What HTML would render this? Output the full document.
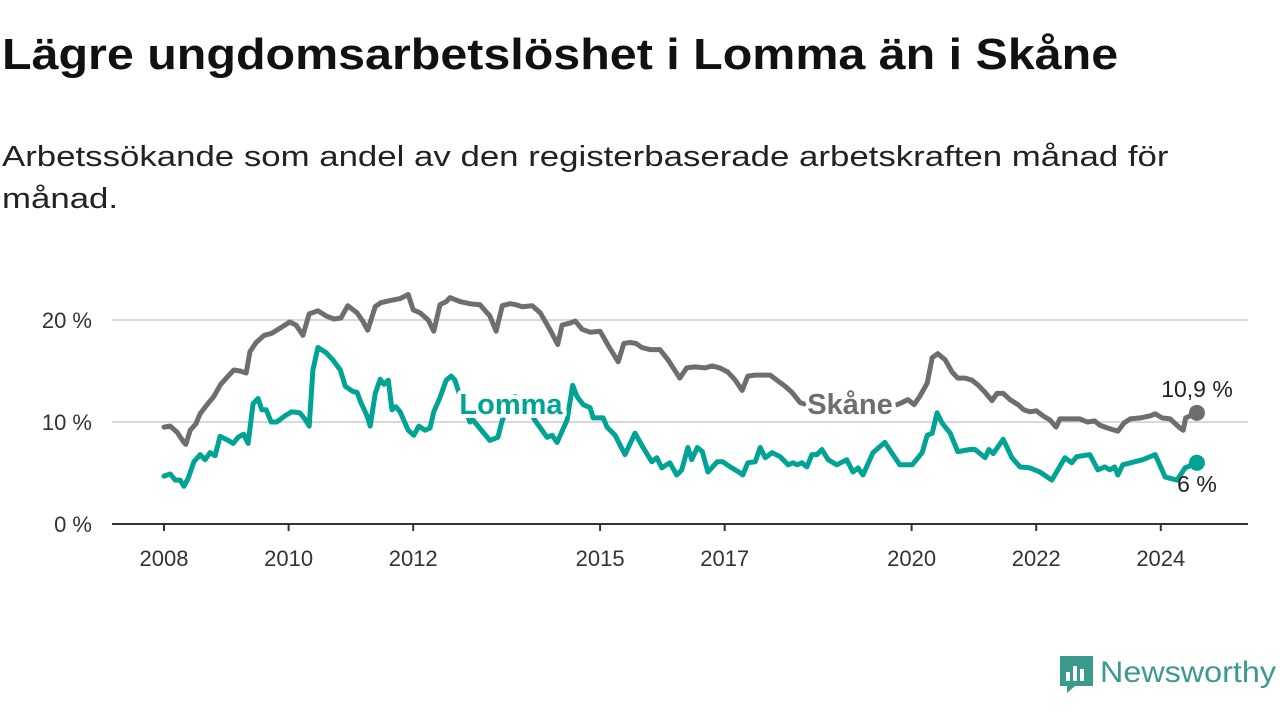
<!DOCTYPE html>
<html><head><meta charset="utf-8"><style>
body{margin:0;width:1280px;height:720px;background:#fff;overflow:hidden;font-family:"Liberation Sans",sans-serif;}
h1{position:absolute;left:2px;top:30px;margin:0;font-size:44px;font-weight:bold;color:#111;transform:scaleX(1.1);transform-origin:left top;white-space:nowrap}
.sub{position:absolute;left:2px;top:136px;margin:0;font-size:29px;color:#222;line-height:42px;width:1000px;transform:scaleX(1.2);transform-origin:left top}
svg{position:absolute;left:0;top:0}
</style></head><body>
<h1>Lägre ungdomsarbetslöshet i Lomma än i Skåne</h1>
<p class="sub">Arbetssökande som andel av den registerbaserade arbetskraften månad för månad.</p>
<svg id="chart" width="1280" height="720"></svg>
<script>
const skaneDates=[2008.00,2008.10,2008.21,2008.32,2008.35,2008.42,2008.51,2008.58,2008.69,2008.80,2008.91,2009.03,2009.12,2009.22,2009.32,2009.38,2009.48,2009.61,2009.73,2009.86,2010.02,2010.12,2010.23,2010.33,2010.47,2010.60,2010.73,2010.84,2010.95,2011.10,2011.19,2011.27,2011.39,2011.48,2011.63,2011.79,2011.92,2012.00,2012.11,2012.24,2012.33,2012.43,2012.53,2012.59,2012.75,2012.91,2013.07,2013.23,2013.33,2013.43,2013.55,2013.65,2013.75,2013.91,2014.04,2014.20,2014.32,2014.39,2014.52,2014.60,2014.71,2014.84,2015.00,2015.13,2015.29,2015.38,2015.48,2015.58,2015.67,2015.80,2015.96,2016.09,2016.28,2016.39,2016.52,2016.68,2016.80,2016.92,2017.05,2017.17,2017.28,2017.37,2017.49,2017.73,2017.86,2017.97,2018.08,2018.21,2018.53,2018.85,2019.17,2019.49,2019.81,2019.94,2020.04,2020.13,2020.25,2020.33,2020.42,2020.54,2020.65,2020.74,2020.86,2020.97,2021.07,2021.18,2021.29,2021.37,2021.47,2021.58,2021.71,2021.80,2021.90,2022.00,2022.11,2022.22,2022.32,2022.38,2022.54,2022.70,2022.82,2022.94,2023.02,2023.15,2023.31,2023.41,2023.51,2023.67,2023.83,2023.91,2024.02,2024.15,2024.31,2024.36,2024.40,2024.58];
const skaneValues=[9.5,9.6,9.0,8.0,7.8,9.2,9.8,10.8,11.7,12.5,13.7,14.5,15.1,15.0,14.8,16.9,17.8,18.5,18.7,19.2,19.8,19.5,18.5,20.6,20.9,20.4,20.1,20.2,21.4,20.7,19.9,19.0,21.3,21.7,21.9,22.1,22.5,21.0,20.7,20.0,18.9,21.5,21.8,22.2,21.8,21.6,21.5,20.4,18.9,21.4,21.6,21.5,21.3,21.4,20.7,19.0,17.6,19.5,19.7,19.9,19.1,18.8,18.9,17.5,15.9,17.7,17.8,17.7,17.3,17.1,17.1,16.1,14.3,15.3,15.4,15.3,15.5,15.3,14.9,14.1,13.1,14.5,14.6,14.6,14.0,13.5,12.9,11.9,11.3,11.0,10.8,11.2,11.8,12.2,11.7,12.5,13.8,16.3,16.7,16.1,14.9,14.3,14.3,14.1,13.6,12.9,12.1,12.8,12.8,12.2,11.7,11.2,11.0,11.1,10.6,10.2,9.5,10.3,10.3,10.3,10.0,10.1,9.7,9.4,9.1,9.9,10.3,10.4,10.6,10.8,10.4,10.3,9.4,9.2,10.4,10.9];
const lommaDates=[2008.00,2008.10,2008.18,2008.26,2008.32,2008.39,2008.48,2008.58,2008.66,2008.74,2008.82,2008.90,2009.03,2009.11,2009.19,2009.28,2009.35,2009.43,2009.51,2009.57,2009.64,2009.72,2009.81,2009.94,2010.05,2010.18,2010.26,2010.33,2010.39,2010.47,2010.60,2010.71,2010.83,2010.91,2011.03,2011.10,2011.16,2011.26,2011.31,2011.39,2011.47,2011.53,2011.60,2011.66,2011.72,2011.79,2011.92,2012.01,2012.09,2012.19,2012.27,2012.33,2012.43,2012.53,2012.61,2012.67,2012.75,2012.83,2012.91,2012.96,2013.23,2013.36,2013.43,2013.63,2013.79,2013.95,2014.15,2014.23,2014.31,2014.47,2014.56,2014.63,2014.73,2014.84,2014.89,2015.05,2015.11,2015.24,2015.40,2015.56,2015.69,2015.83,2015.91,2015.99,2016.12,2016.23,2016.31,2016.41,2016.47,2016.56,2016.64,2016.73,2016.88,2016.97,2017.09,2017.25,2017.29,2017.37,2017.49,2017.57,2017.65,2017.76,2017.89,2018.02,2018.10,2018.16,2018.24,2018.32,2018.40,2018.48,2018.56,2018.66,2018.80,2018.96,2019.06,2019.14,2019.22,2019.38,2019.57,2019.70,2019.81,2020.01,2020.17,2020.25,2020.33,2020.41,2020.49,2020.62,2020.74,2020.94,2021.02,2021.18,2021.24,2021.31,2021.47,2021.61,2021.74,2021.90,2022.06,2022.25,2022.46,2022.57,2022.65,2022.86,2022.99,2023.10,2023.18,2023.26,2023.31,2023.39,2023.71,2023.91,2024.07,2024.26,2024.39,2024.58];
const lommaValues=[4.7,4.9,4.3,4.3,3.7,4.5,6.1,6.8,6.3,7.0,6.7,8.6,8.2,7.9,8.5,8.8,7.9,11.8,12.3,11.2,11.2,10.0,10.0,10.6,11.0,10.9,10.3,9.6,15.1,17.3,16.8,16.1,15.1,13.5,13.0,12.9,11.9,10.6,9.6,12.8,14.2,13.7,14.1,11.2,11.5,11.0,9.2,8.7,9.6,9.2,9.4,11.0,12.4,14.1,14.5,14.1,12.6,11.4,10.0,10.2,8.2,8.5,10.2,12.5,12.0,10.2,8.5,8.7,8.0,10.2,13.6,12.5,11.7,11.4,10.4,10.4,9.5,8.7,6.8,8.9,7.5,6.1,6.5,5.5,6.0,4.8,5.3,7.5,6.3,7.5,7.1,5.1,6.1,6.1,5.6,5.0,4.8,6.0,6.1,7.5,6.5,7.0,6.6,5.8,6.0,5.8,6.0,5.6,6.8,6.8,7.3,6.3,5.8,6.3,5.1,5.5,4.8,7.0,8.0,6.8,5.8,5.8,7.0,8.7,8.9,10.9,9.9,8.9,7.1,7.3,7.3,6.5,7.3,6.9,8.3,6.5,5.6,5.5,5.1,4.3,6.5,6.0,6.6,6.8,5.3,5.6,5.3,5.6,4.8,5.8,6.3,6.8,4.6,4.3,5.5,6.0];
const yTicks=[0,10,20];
const yTickLabels=["0 %","10 %","20 %"];
const xTicks=[2008,2010,2012,2015,2017,2020,2022,2024];
const xTickLabels=["2008","2010","2012","2015","2017","2020","2022","2024"];

const NS="http://www.w3.org/2000/svg";
const svg=document.getElementById('chart');
const x=d=>164+(d-2008)*62.3;
const y=v=>524-v*10.2;
function mk(tag,attrs,parent){const e=document.createElementNS(NS,tag);for(const k in attrs)e.setAttribute(k,attrs[k]);(parent||svg).appendChild(e);return e;}

yTicks.forEach((t,i)=>{
  if(t>0){const g=mk('line',{x1:112,x2:1248,y1:y(t),y2:y(t),stroke:'#d9d9d9','stroke-width':2});
  
  }
  const l=mk('text',{x:92,y:y(t)+8,'text-anchor':'end','font-size':22,fill:'#333','font-family':'Liberation Sans, sans-serif'});
  l.textContent=yTickLabels[i];
  
  
});
const ax=mk('line',{x1:112,x2:1248,y1:524,y2:524,stroke:'#333','stroke-width':2});


xTicks.forEach((t,i)=>{
  const tk=mk('line',{x1:x(t),x2:x(t),y1:524,y2:531,stroke:'#333','stroke-width':2});
  
  
  const l=mk('text',{x:x(t),y:566,'text-anchor':'middle','font-size':22,fill:'#333','font-family':'Liberation Sans, sans-serif'});
  l.textContent=xTickLabels[i];
  
  
});
function series(dates,vals,color,name){
  const d=dates.map((t,i)=>(i?'L':'M')+x(t).toFixed(1)+','+y(vals[i]).toFixed(1)).join('');
  const p=mk('path',{d:d,fill:'none',stroke:color,'stroke-width':5,'stroke-linejoin':'round','stroke-linecap':'round'});
  
  
  const n=dates.length-1;
  const c=mk('circle',{cx:x(dates[n]),cy:y(vals[n]),r:8,fill:color});
  
  
}
series(skaneDates,skaneValues,'#6e6d72','skane');
series(lommaDates,lommaValues,'#00a394','lomma');

function label(txt,cx,cy,color,name,size,bold,halo){
  const t=mk('text',{x:cx,y:cy,'text-anchor':'middle','font-size':size,fill:color,'font-weight':bold?'bold':'normal','font-family':'Liberation Sans, sans-serif',stroke:halo?'#fff':'none','stroke-width':halo?8:0,'paint-order':'stroke','stroke-linejoin':'round'});
  t.textContent=txt;
  
  
}
label('Skåne',850,414,'#6e6d72','skane-series-label',29,true,true);
label('Lomma',511,414,'#00a394','lomma-series-label',29,true,true);
const nS=skaneValues.length-1, nL=lommaValues.length-1;
label(String(skaneValues[nS]).replace('.',',')+' %',1197,y(skaneValues[nS])-16,'#222','skane-end-value',23,false,false);
label(String(lommaValues[nL]).replace('.',',').replace(',0','')+' %',1197,y(lommaValues[nL])+29,'#222','lomma-end-value',23,false,false);

// logo
const lg=mk('g',{});


mk('path',{d:'M1060,656 h33 v30 h-18 l-8,7 v-7 h-7 z',fill:'#3a9a8c'},lg);
mk('rect',{x:1066,y:672,width:4,height:9,fill:'#fff'},lg);
mk('rect',{x:1073,y:666,width:4,height:15,fill:'#fff'},lg);
mk('rect',{x:1080,y:669,width:4,height:12,fill:'#fff'},lg);
const lt=mk('text',{x:1100,y:682,'font-size':30,fill:'#3a9a8c','font-family':'Liberation Sans, sans-serif',textLength:176,lengthAdjust:'spacingAndGlyphs'},lg);
lt.textContent='Newsworthy';
</script>
</body></html>
